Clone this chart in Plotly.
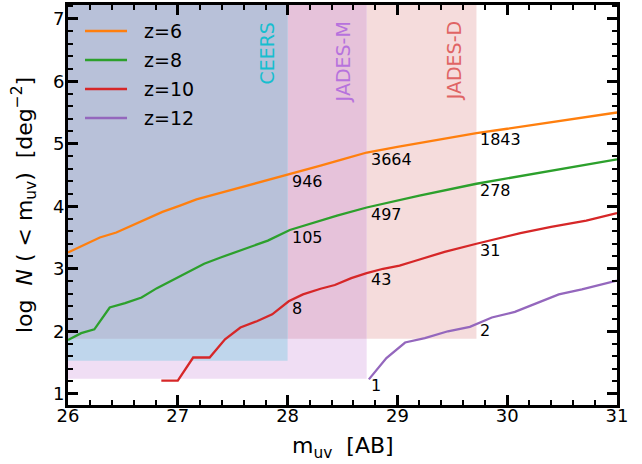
import numpy as np
import plotly.graph_objects as go

# ---- data ----
x_z6 = [26.00, 26.14, 26.29, 26.44, 26.57, 26.71, 26.86, 27.02, 27.17, 27.38, 27.57, 27.81, 28.05, 28.30, 28.50, 28.72, 29.00, 29.30, 29.72, 30.00, 30.40, 30.70, 31.00]
y_z6 = [3.26, 3.38, 3.50, 3.58, 3.68, 3.79, 3.91, 4.01, 4.11, 4.21, 4.30, 4.41, 4.53, 4.65, 4.75, 4.86, 4.95, 5.04, 5.17, 5.24, 5.34, 5.42, 5.50]

x_z8 = [26.00, 26.12, 26.24, 26.38, 26.52, 26.67, 26.81, 26.96, 27.10, 27.24, 27.39, 27.53, 27.67, 27.82, 28.02, 28.20, 28.45, 28.72, 29.20, 29.72, 30.30, 31.00]
y_z8 = [1.86, 1.97, 2.03, 2.38, 2.45, 2.54, 2.69, 2.83, 2.96, 3.08, 3.18, 3.27, 3.35, 3.45, 3.62, 3.72, 3.85, 3.98, 4.17, 4.36, 4.54, 4.75]

x_z10 = [26.85, 27.00, 27.14, 27.29, 27.43, 27.57, 27.72, 27.86, 28.01, 28.14, 28.30, 28.43, 28.58, 28.72, 28.87, 29.02, 29.15, 29.43, 29.72, 30.12, 30.40, 30.72, 31.00]
y_z10 = [1.21, 1.21, 1.58, 1.58, 1.87, 2.06, 2.16, 2.27, 2.48, 2.59, 2.68, 2.74, 2.85, 2.93, 3.00, 3.05, 3.12, 3.27, 3.40, 3.57, 3.67, 3.77, 3.89]

x_z12 = [28.74, 28.90, 29.07, 29.25, 29.46, 29.66, 29.86, 30.07, 30.27, 30.47, 30.68, 30.97, 31.00]
y_z12 = [1.23, 1.57, 1.82, 1.89, 2.00, 2.07, 2.22, 2.31, 2.45, 2.59, 2.67, 2.80, 2.81]

series_names = ["z=6", "z=8", "z=10", "z=12"]
series_colors = ["#ff7f0e", "#2ca02c", "#d62728", "#9467bd"]

# surveys: magnitude limit and log(1/area) lower bound
surveys = ["CEERS", "JADES-M", "JADES-D"]
mag_lim = [28.0, 28.72, 29.72]
logN_min = [1.53, 1.24, 1.88]
survey_text_colors = ["#17becf", "#b772dd", "#e06464"]

# number counts at each survey limit
counts_z6 = ["946", "3664", "1843"]
counts_z8 = ["105", "497", "278"]
counts_z10 = ["8", "43", "31"]
counts_z12 = ["", "1", "2"]

x_ticks = [26, 27, 28, 29, 30, 31]
y_ticks = [1, 2, 3, 4, 5, 6, 7]

XR = [26, 31]
YR = [0.82, 7.22]

fig = go.Figure()

# shaded survey regions (composited colours, drawn as opaque tiles)
top = YR[1]
tiles = [
    (XR[0], mag_lim[1], logN_min[1], top, "#f0def4"),   # JADES-M only
    (mag_lim[1], mag_lim[2], logN_min[2], top, "#f5dcdc"),  # JADES-D only
    (mag_lim[0], mag_lim[1], logN_min[2], top, "#e6c2da"),  # JADES-M + JADES-D
    (XR[0], mag_lim[0], logN_min[0], top, "#bfd6ec"),   # CEERS + JADES-M
    (XR[0], mag_lim[0], logN_min[2], top, "#b8c1d9"),   # all three
]
for x0, x1, y0, y1, c in tiles:
    fig.add_shape(type="rect", x0=x0, x1=x1, y0=y0, y1=y1, xref="x", yref="y",
                  fillcolor=c, line=dict(width=0), layer="below")

xs = [x_z6, x_z8, x_z10, x_z12]
ys = [y_z6, y_z8, y_z10, y_z12]
for i, (xx, yy) in enumerate(zip(xs, ys)):
    fig.add_trace(go.Scatter(x=xx, y=yy, mode="lines", name=series_names[i],
                             line=dict(color=series_colors[i], width=2.3),
                             showlegend=False))

# legend (drawn in the upper-left corner like matplotlib's)
for i, (name, c) in enumerate(zip(series_names, series_colors)):
    ly = 0.935 - i * 0.0725
    fig.add_shape(type="line", xref="paper", yref="paper", x0=0.031, x1=0.1075,
                  y0=ly, y1=ly, line=dict(color=c, width=2.3))
    fig.add_annotation(xref="paper", yref="paper", x=0.1348, y=ly, text=name,
                       showarrow=False, xanchor="left", yanchor="middle",
                       font=dict(size=19, color="black", family="DejaVu Sans"))

# count labels
for xx, yy, cnts in zip(xs, ys, [counts_z6, counts_z8, counts_z10, counts_z12]):
    for m, t in zip(mag_lim, cnts):
        if not t:
            continue
        yv = float(np.interp(m, xx, yy)) if m >= xx[0] else yy[0]
        fig.add_annotation(x=m, y=yv, text=t, showarrow=False, xanchor="left",
                           yanchor="top", xshift=2, yshift=5,
                           font=dict(size=16, color="black", family="DejaVu Sans"))

# survey names
survey_x = [27.81, 28.50, 29.51]
for name, sx, c in zip(surveys, survey_x, survey_text_colors):
    fig.add_annotation(x=sx, y=6.99, text=name, showarrow=False, textangle=-90,
                       xanchor="center", yanchor="top",
                       font=dict(size=19, color=c, family="DejaVu Sans"))

# x-axis title
fig.add_annotation(xref="paper", yref="paper", x=0.5, y=-0.106, text="m<sub>uv</sub>  [AB]",
                   showarrow=False, xanchor="center", yanchor="middle",
                   font=dict(size=22, color="black", family="DejaVu Sans"))

axis_common = dict(
    showgrid=False, zeroline=False, showline=True, linecolor="black", linewidth=3,
    mirror="allticks", ticks="inside", ticklen=10, tickwidth=2.5, tickcolor="black",
    automargin=False,
    tickfont=dict(size=18, color="black", family="DejaVu Sans"),
    minor=dict(ticks="inside", ticklen=5, tickwidth=1.5, tickcolor="black", dtick=0.2, showgrid=False),
)
fig.update_xaxes(range=XR, tickvals=x_ticks, **axis_common, ticklabelstandoff=-8)
fig.update_yaxes(range=YR, tickvals=y_ticks, **axis_common, ticklabelstandoff=-3,
                 title=dict(text="log  <i>N</i> ( < m<sub>uv</sub>)  [deg<sup>−2</sup>]",
                            font=dict(size=22, color="black", family="DejaVu Sans")))

fig.update_layout(
    width=642, height=464,
    margin=dict(l=68, r=25, t=5, b=59, autoexpand=False),
    paper_bgcolor="white", plot_bgcolor="white",
    font=dict(family="DejaVu Sans", color="black"),
    showlegend=False,
)

fig.write_html("out.html", post_script="document.body.style.margin='0px';",
               config={"displayModeBar": False})
